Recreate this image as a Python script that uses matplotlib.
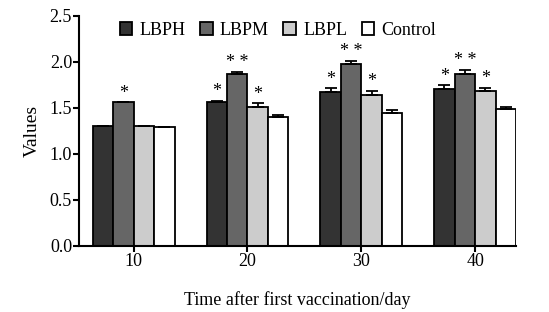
import numpy as np
import matplotlib.pyplot as plt

plt.rcParams['font.family'] = ['Liberation Serif', 'DejaVu Serif']

dias = [10, 20, 30, 40]
grupos = ['LBPH', 'LBPM', 'LBPL', 'Control']
lbph = [1.30, 1.56, 1.67, 1.71]
lbpm = [1.56, 1.87, 1.98, 1.87]
lbpl = [1.30, 1.51, 1.645, 1.685]
control = [1.29, 1.40, 1.44, 1.485]
err_lbph = [0.0, 0.02, 0.045, 0.035]
err_lbpm = [0.0, 0.025, 0.035, 0.045]
err_lbpl = [0.0, 0.04, 0.04, 0.035]
err_control = [0.0, 0.025, 0.035, 0.03]
sig_lbph = ['', '*', '*', '*']
sig_lbpm = ['*', '* *', '* *', '* *']
sig_lbpl = ['', '*', '*', '*']
sig_control = ['', '', '', '']

valores = [lbph, lbpm, lbpl, control]
errores = [err_lbph, err_lbpm, err_lbpl, err_control]
sigs = [sig_lbph, sig_lbpm, sig_lbpl, sig_control]
colores = ['#333333', '#666666', '#cccccc', '#ffffff']

fig = plt.figure(figsize=(5.49, 3.12), dpi=100)
ax = fig.add_axes([0.144, 0.212, 0.796, 0.737])

w = 1.8
x = np.array(dias, dtype=float)
for i in range(4):
    pos = x + (i - 1.5) * w
    err = np.array(errores[i])
    ax.bar(pos, valores[i], width=w, color=colores[i], edgecolor='black',
           linewidth=1.3, label=grupos[i],
           yerr=[np.zeros_like(err), err],
           error_kw=dict(ecolor='black', elinewidth=1.3, capsize=4, capthick=1.3))
    for p, v, e, s in zip(pos, valores[i], err, sigs[i]):
        if s:
            ax.text(p, v + e + 0.005, s, ha='center', va='bottom', fontsize=13)

ax.set_xlim(5.2, 43.6)
ax.set_ylim(0, 2.5)
ax.set_xticks(dias)
ax.set_yticks([0, 0.5, 1.0, 1.5, 2.0, 2.5])
ax.set_yticklabels(['0.0', '0.5', '1.0', '1.5', '2.0', '2.5'])
ax.spines['top'].set_visible(False)
ax.spines['right'].set_visible(False)
ax.spines['left'].set_linewidth(1.5)
ax.spines['bottom'].set_linewidth(1.5)
ax.tick_params(axis='both', direction='out', length=4, width=1.5, labelsize=13, pad=1)
ax.set_xlabel('Time after first vaccination/day', fontsize=13, labelpad=15)
ax.set_ylabel('Values', fontsize=14, labelpad=6)

ax.legend(loc='upper center', bbox_to_anchor=(0.455, 1.045), ncol=4, frameon=False,
          fontsize=13, handlelength=0.7, handleheight=0.7, handletextpad=0.4,
          columnspacing=0.8)

fig.savefig('out.png', dpi=100)
